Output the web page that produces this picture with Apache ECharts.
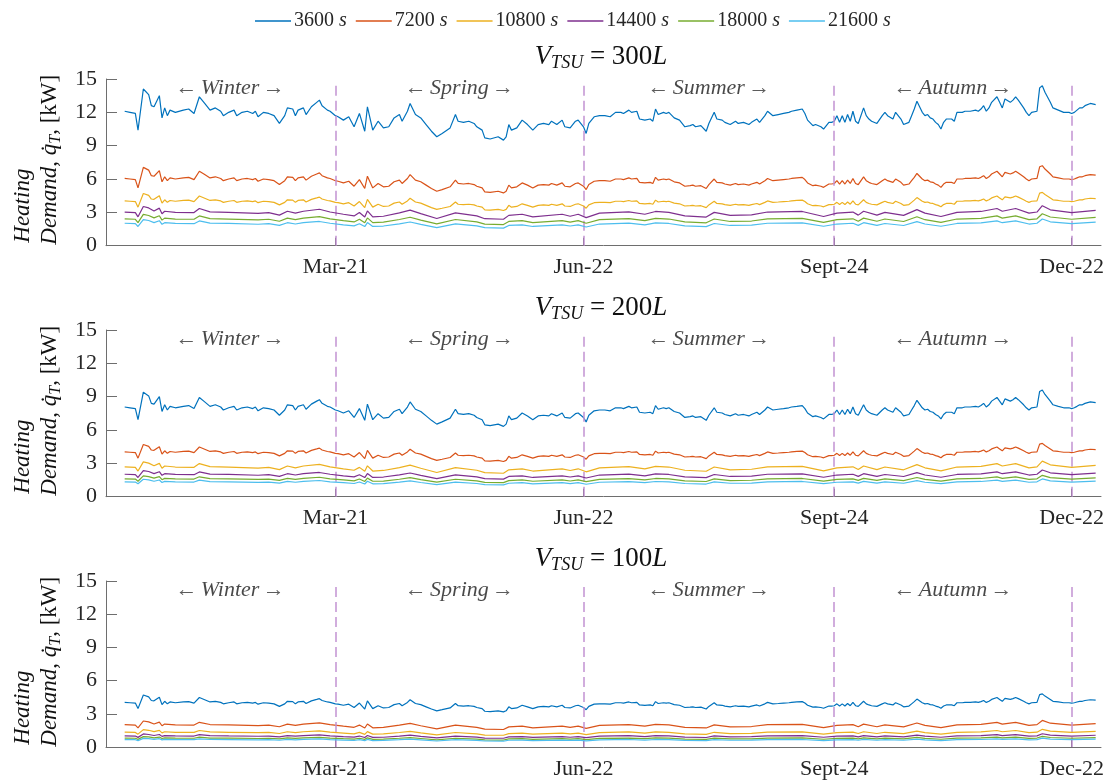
<!DOCTYPE html>
<html>
<head>
<meta charset="utf-8">
<script src="https://cdn.jsdelivr.net/npm/echarts@6/dist/echarts.min.js"></script>
<style>
html, body { margin: 0; padding: 0; background: #ffffff; }
#chart { width: 1112px; height: 780px; }
</style>
</head>
<body>
<div id="chart"></div>
<script>
// Day-of-year positions of the samples (dense track for the larger curves, sparse track for the small ones)
const daysFine = [
  1,3,5,6,8,10,11,12,14,15,
  16,17,18,20,23,25,27,29,31,33,
  35,37,38,40,42,43,45,47,49,50,
  51,53,55,57,59,61,62,64,65,66,
  68,69,71,73,74,75,77,78,80,81,
  83,85,87,89,91,92,94,96,98,100,
  102,104,105,107,108,110,112,114,116,118,
  120,123,125,126,128,130,132,133,135,136,
  138,141,143,144,145,146,148,150,152,154,
  156,158,160,161,163,165,166,168,170,171,
  173,174,175,177,179,181,183,185,187,188,
  190,191,193,194,196,198,199,200,201,203,
  204,205,207,209,211,213,214,215,217,219,
  220,222,223,225,226,228,230,231,233,235,
  236,238,239,241,242,244,246,248,250,251,
  253,255,256,257,259,260,262,263,265,266,
  267,268,269,270,271,272,273,274,275,276,
  278,279,280,281,283,285,286,287,289,290,
  292,293,295,296,297,298,300,301,302,303,
  304,305,306,307,308,309,311,312,313,315,
  316,318,320,321,322,323,324,325,326,328,
  329,330,331,333,334,335,336,338,339,340,
  341,343,344,345,346,348,349,351,353,355,
  356,357,358,359,360,361,363,365
];
const daysCoarse = [
  1,5,6,8,10,12,14,15,16,20,
  27,29,33,40,51,55,59,62,65,68,
  74,78,83,87,89,91,92,94,98,104,
  108,112,118,125,133,136,143,145,150,154,
  165,168,171,174,179,190,196,200,205,211,
  219,222,228,236,242,255,263,268,274,276,
  278,283,286,293,298,301,307,313,322,328,
  330,335,340,343,345,348,356,365
];

// Season boundaries and labels
const boundaryDays = [80, 173, 267, 356];
const boundaryLabels = ['Mar-21', 'Jun-22', 'Sept-24', 'Dec-22'];
const seasonNames = ['Winter', 'Spring', 'Summer', 'Autumn'];
const seasonCentres = [40.5, 126.5, 220, 311.5];

const durations = ['3600', '7200', '10800', '14400', '18000', '21600'];
const volumes = ['300', '200', '100'];

// ---- V_TSU = 300 L ----
const q300_3600 = [
  12.1,12.0,11.9,10.4,14.1,13.6,12.6,12.5,13.5,11.5,
  12.4,11.7,12.2,12.0,12.2,12.3,11.9,13.4,12.8,12.2,
  12.4,12.1,11.7,12.0,12.2,11.7,12.0,12.1,11.9,12.1,
  11.6,12.0,11.9,11.7,11.0,11.7,12.4,12.3,11.7,12.2,
  12.4,11.8,12.5,12.9,13.1,12.6,12.2,12.1,11.7,11.6,
  11.3,11.6,10.7,11.9,10.3,12.5,10.4,11.2,10.6,10.7,
  11.5,11.8,11.2,12.1,12.8,11.8,11.5,10.9,10.3,9.8,
  10.1,10.6,11.8,11.2,11.1,11.2,11.0,10.7,10.4,9.7,
  9.6,9.8,9.5,9.8,10.9,10.4,10.6,11.3,10.9,10.4,
  10.9,11.0,10.9,11.2,10.9,11.3,10.7,10.6,11.2,11.3,
  10.7,10.1,11.0,11.6,11.7,11.7,11.6,12.0,12.0,11.9,
  12.2,12.0,12.1,11.4,11.3,11.4,11.2,12.3,11.8,12.0,
  11.9,12.0,11.5,11.3,10.7,10.8,10.9,10.7,10.8,10.3,
  11.0,12.0,11.4,11.3,11.1,10.9,11.2,11.0,11.1,10.9,
  11.1,11.4,11.1,11.7,12.1,11.7,11.8,11.9,12.0,12.1,
  12.2,12.3,11.9,11.3,10.8,10.9,10.7,10.5,11.1,11.1,
  11.2,11.7,11.1,11.7,11.1,11.8,11.2,12.1,11.2,11.0,
  12.4,11.7,11.4,11.2,11.0,11.7,12.0,11.7,11.4,12.0,
  11.4,10.9,11.1,11.7,12.3,13.0,12.0,11.7,11.8,11.5,
  11.4,11.1,10.9,10.5,11.1,11.4,11.4,11.2,12.0,12.0,
  12.1,12.1,12.2,12.1,12.3,12.6,12.1,12.4,12.9,13.4,
  12.9,12.4,13.2,12.9,13.1,13.4,13.1,12.4,12.0,11.7,
  12.0,12.1,14.2,14.4,13.8,12.9,12.4,12.2,12.0,12.0,
  11.9,12.0,12.2,12.4,12.4,12.6,12.8,12.7
];
const q300_7200 = [
  6.05,6.0,5.95,5.2,7.05,6.8,6.3,6.25,6.75,5.75,
  6.2,5.85,6.1,6.0,6.1,6.15,5.95,6.7,6.4,6.1,
  6.2,6.05,5.85,6.0,6.1,5.85,6.0,6.05,5.95,6.05,
  5.8,6.0,5.95,5.85,5.5,5.85,6.2,6.15,5.85,6.1,
  6.2,5.9,6.25,6.45,6.55,6.3,6.1,6.05,5.85,5.8,
  5.65,5.8,5.35,5.95,5.15,6.25,5.2,5.6,5.3,5.35,
  5.75,5.9,5.6,6.05,6.4,5.9,5.75,5.45,5.15,4.9,
  5.05,5.3,5.9,5.6,5.55,5.6,5.5,5.35,5.2,4.85,
  4.8,4.9,4.75,4.9,5.45,5.2,5.3,5.65,5.45,5.2,
  5.45,5.5,5.45,5.6,5.45,5.65,5.35,5.3,5.6,5.65,
  5.35,5.05,5.5,5.8,5.85,5.85,5.8,6.0,6.0,5.95,
  6.1,6.0,6.05,5.7,5.65,5.7,5.6,6.15,5.9,6.0,
  5.95,6.0,5.75,5.65,5.35,5.4,5.45,5.35,5.4,5.15,
  5.5,6.0,5.7,5.65,5.55,5.45,5.6,5.5,5.55,5.45,
  5.55,5.7,5.55,5.85,6.05,5.85,5.9,5.95,6.0,6.05,
  6.1,6.15,5.95,5.65,5.4,5.45,5.35,5.25,5.55,5.55,
  5.6,5.85,5.55,5.85,5.55,5.9,5.6,6.05,5.6,5.5,
  6.2,5.85,5.7,5.6,5.5,5.85,6.0,5.85,5.7,6.0,
  5.7,5.45,5.55,5.85,6.15,6.5,6.0,5.85,5.9,5.75,
  5.7,5.55,5.45,5.25,5.55,5.7,5.7,5.6,6.0,6.0,
  6.05,6.05,6.1,6.05,6.15,6.3,6.05,6.2,6.45,6.7,
  6.45,6.2,6.6,6.45,6.55,6.7,6.55,6.2,6.0,5.85,
  6.0,6.05,7.1,7.2,6.9,6.45,6.2,6.1,6.0,6.0,
  5.95,6.0,6.1,6.2,6.2,6.3,6.4,6.35
];
const q300_10800 = [
  4.03,4.0,3.97,3.47,4.7,4.53,4.2,4.17,4.5,3.83,
  4.13,3.9,4.07,4.0,4.07,4.1,3.97,4.47,4.27,4.07,
  4.13,4.03,3.9,4.0,4.07,3.9,4.0,4.03,3.97,4.03,
  3.87,4.0,3.97,3.9,3.67,3.9,4.13,4.1,3.9,4.07,
  4.13,3.93,4.17,4.3,4.37,4.2,4.07,4.03,3.9,3.87,
  3.77,3.87,3.57,3.97,3.43,4.17,3.47,3.73,3.53,3.57,
  3.83,3.93,3.73,4.03,4.27,3.93,3.83,3.63,3.43,3.27,
  3.37,3.53,3.93,3.73,3.7,3.73,3.67,3.57,3.47,3.23,
  3.2,3.27,3.17,3.27,3.63,3.47,3.53,3.77,3.63,3.47,
  3.63,3.67,3.63,3.73,3.63,3.77,3.57,3.53,3.73,3.77,
  3.57,3.37,3.67,3.87,3.9,3.9,3.87,4.0,4.0,3.97,
  4.07,4.0,4.03,3.8,3.77,3.8,3.73,4.1,3.93,4.0,
  3.97,4.0,3.83,3.77,3.57,3.6,3.63,3.57,3.6,3.43,
  3.67,4.0,3.8,3.77,3.7,3.63,3.73,3.67,3.7,3.63,
  3.7,3.8,3.7,3.9,4.03,3.9,3.93,3.97,4.0,4.03,
  4.07,4.1,3.97,3.77,3.6,3.63,3.57,3.5,3.7,3.7,
  3.73,3.9,3.7,3.9,3.7,3.93,3.73,4.03,3.73,3.67,
  4.13,3.9,3.8,3.73,3.67,3.9,4.0,3.9,3.8,4.0,
  3.8,3.63,3.7,3.9,4.1,4.33,4.0,3.9,3.93,3.83,
  3.8,3.7,3.63,3.5,3.7,3.8,3.8,3.73,4.0,4.0,
  4.03,4.03,4.07,4.03,4.1,4.2,4.03,4.13,4.3,4.47,
  4.3,4.13,4.4,4.3,4.37,4.47,4.37,4.13,4.0,3.9,
  4.0,4.03,4.73,4.8,4.6,4.3,4.13,4.07,4.0,4.0,
  3.97,4.0,4.07,4.13,4.13,4.2,4.27,4.23
];
const q300_14400 = [
  3.03,2.98,2.6,3.53,3.4,3.13,3.38,2.88,3.1,3.0,
  2.98,3.35,3.05,3.0,2.9,2.98,2.75,3.1,2.93,3.1,
  3.28,3.03,2.83,2.68,2.98,2.58,3.13,2.6,2.65,2.95,
  3.2,2.88,2.45,2.95,2.68,2.43,2.38,2.73,2.83,2.6,
  2.83,2.65,2.83,2.53,2.93,3.05,2.83,3.08,3.0,2.68,
  2.58,3.0,2.73,2.78,3.03,3.08,2.63,2.93,3.03,2.75,
  3.1,2.75,3.0,2.73,3.25,2.93,2.63,3.0,3.08,3.35,
  3.1,3.35,2.93,3.03,3.6,3.23,2.98,3.18
];
const q300_18000 = [
  2.42,2.38,2.08,2.82,2.72,2.5,2.7,2.3,2.48,2.4,
  2.38,2.68,2.44,2.4,2.32,2.38,2.2,2.48,2.34,2.48,
  2.62,2.42,2.26,2.14,2.38,2.06,2.5,2.08,2.12,2.36,
  2.56,2.3,1.96,2.36,2.14,1.94,1.9,2.18,2.26,2.08,
  2.26,2.12,2.26,2.02,2.34,2.44,2.26,2.46,2.4,2.14,
  2.06,2.4,2.18,2.22,2.42,2.46,2.1,2.34,2.42,2.2,
  2.48,2.2,2.4,2.18,2.6,2.34,2.1,2.4,2.46,2.68,
  2.48,2.68,2.34,2.42,2.88,2.58,2.38,2.54
];
const q300_21600 = [
  2.02,1.98,1.73,2.35,2.27,2.08,2.25,1.92,2.07,2.0,
  1.98,2.23,2.03,2.0,1.93,1.98,1.83,2.07,1.95,2.07,
  2.18,2.02,1.88,1.78,1.98,1.72,2.08,1.73,1.77,1.97,
  2.13,1.92,1.63,1.97,1.78,1.62,1.58,1.82,1.88,1.73,
  1.88,1.77,1.88,1.68,1.95,2.03,1.88,2.05,2.0,1.78,
  1.72,2.0,1.82,1.85,2.02,2.05,1.75,1.95,2.02,1.83,
  2.07,1.83,2.0,1.82,2.17,1.95,1.75,2.0,2.05,2.23,
  2.07,2.23,1.95,2.02,2.4,2.15,1.98,2.12
];

// ---- V_TSU = 200 L ----
const q200_3600 = [
  8.07,8.0,7.93,6.93,9.4,9.07,8.4,8.33,9.0,7.67,
  8.27,7.8,8.13,8.0,8.13,8.2,7.93,8.93,8.53,8.13,
  8.27,8.07,7.8,8.0,8.13,7.8,8.0,8.07,7.93,8.07,
  7.73,8.0,7.93,7.8,7.33,7.8,8.27,8.2,7.8,8.13,
  8.27,7.87,8.33,8.6,8.73,8.4,8.13,8.07,7.8,7.73,
  7.53,7.73,7.13,7.93,6.87,8.33,6.93,7.47,7.07,7.13,
  7.67,7.87,7.47,8.07,8.53,7.87,7.67,7.27,6.87,6.53,
  6.73,7.07,7.87,7.47,7.4,7.47,7.33,7.13,6.93,6.47,
  6.4,6.53,6.33,6.53,7.27,6.93,7.07,7.53,7.27,6.93,
  7.27,7.33,7.27,7.47,7.27,7.53,7.13,7.07,7.47,7.53,
  7.13,6.73,7.33,7.73,7.8,7.8,7.73,8.0,8.0,7.93,
  8.13,8.0,8.07,7.6,7.53,7.6,7.47,8.2,7.87,8.0,
  7.93,8.0,7.67,7.53,7.13,7.2,7.27,7.13,7.2,6.87,
  7.33,8.0,7.6,7.53,7.4,7.27,7.47,7.33,7.4,7.27,
  7.4,7.6,7.4,7.8,8.07,7.8,7.87,7.93,8.0,8.07,
  8.13,8.2,7.93,7.53,7.2,7.27,7.13,7.0,7.4,7.4,
  7.47,7.8,7.4,7.8,7.4,7.87,7.47,8.07,7.47,7.33,
  8.27,7.8,7.6,7.47,7.33,7.8,8.0,7.8,7.6,8.0,
  7.6,7.27,7.4,7.8,8.2,8.67,8.0,7.8,7.87,7.67,
  7.6,7.4,7.27,7.0,7.4,7.6,7.6,7.47,8.0,8.0,
  8.07,8.07,8.13,8.07,8.2,8.4,8.07,8.27,8.6,8.93,
  8.6,8.27,8.8,8.6,8.73,8.93,8.73,8.27,8.0,7.8,
  8.0,8.07,9.47,9.6,9.2,8.6,8.27,8.13,8.0,8.0,
  7.93,8.0,8.13,8.27,8.27,8.4,8.53,8.47
];
const q200_7200 = [
  4.03,4.0,3.97,3.47,4.7,4.53,4.2,4.17,4.5,3.83,
  4.13,3.9,4.07,4.0,4.07,4.1,3.97,4.47,4.27,4.07,
  4.13,4.03,3.9,4.0,4.07,3.9,4.0,4.03,3.97,4.03,
  3.87,4.0,3.97,3.9,3.67,3.9,4.13,4.1,3.9,4.07,
  4.13,3.93,4.17,4.3,4.37,4.2,4.07,4.03,3.9,3.87,
  3.77,3.87,3.57,3.97,3.43,4.17,3.47,3.73,3.53,3.57,
  3.83,3.93,3.73,4.03,4.27,3.93,3.83,3.63,3.43,3.27,
  3.37,3.53,3.93,3.73,3.7,3.73,3.67,3.57,3.47,3.23,
  3.2,3.27,3.17,3.27,3.63,3.47,3.53,3.77,3.63,3.47,
  3.63,3.67,3.63,3.73,3.63,3.77,3.57,3.53,3.73,3.77,
  3.57,3.37,3.67,3.87,3.9,3.9,3.87,4.0,4.0,3.97,
  4.07,4.0,4.03,3.8,3.77,3.8,3.73,4.1,3.93,4.0,
  3.97,4.0,3.83,3.77,3.57,3.6,3.63,3.57,3.6,3.43,
  3.67,4.0,3.8,3.77,3.7,3.63,3.73,3.67,3.7,3.63,
  3.7,3.8,3.7,3.9,4.03,3.9,3.93,3.97,4.0,4.03,
  4.07,4.1,3.97,3.77,3.6,3.63,3.57,3.5,3.7,3.7,
  3.73,3.9,3.7,3.9,3.7,3.93,3.73,4.03,3.73,3.67,
  4.13,3.9,3.8,3.73,3.67,3.9,4.0,3.9,3.8,4.0,
  3.8,3.63,3.7,3.9,4.1,4.33,4.0,3.9,3.93,3.83,
  3.8,3.7,3.63,3.5,3.7,3.8,3.8,3.73,4.0,4.0,
  4.03,4.03,4.07,4.03,4.1,4.2,4.03,4.13,4.3,4.47,
  4.3,4.13,4.4,4.3,4.37,4.47,4.37,4.13,4.0,3.9,
  4.0,4.03,4.73,4.8,4.6,4.3,4.13,4.07,4.0,4.0,
  3.97,4.0,4.07,4.13,4.13,4.2,4.27,4.23
];
const q200_10800 = [
  2.69,2.64,2.31,3.13,3.02,2.78,3.0,2.56,2.76,2.67,
  2.64,2.98,2.71,2.67,2.58,2.64,2.44,2.76,2.6,2.76,
  2.91,2.69,2.51,2.38,2.64,2.29,2.78,2.31,2.36,2.62,
  2.84,2.56,2.18,2.62,2.38,2.16,2.11,2.42,2.51,2.31,
  2.51,2.36,2.51,2.24,2.6,2.71,2.51,2.73,2.67,2.38,
  2.29,2.67,2.42,2.47,2.69,2.73,2.33,2.6,2.69,2.44,
  2.76,2.44,2.67,2.42,2.89,2.6,2.33,2.67,2.73,2.98,
  2.76,2.98,2.6,2.69,3.2,2.87,2.64,2.82
];
const q200_14400 = [
  2.02,1.98,1.73,2.35,2.27,2.08,2.25,1.92,2.07,2.0,
  1.98,2.23,2.03,2.0,1.93,1.98,1.83,2.07,1.95,2.07,
  2.18,2.02,1.88,1.78,1.98,1.72,2.08,1.73,1.77,1.97,
  2.13,1.92,1.63,1.97,1.78,1.62,1.58,1.82,1.88,1.73,
  1.88,1.77,1.88,1.68,1.95,2.03,1.88,2.05,2.0,1.78,
  1.72,2.0,1.82,1.85,2.02,2.05,1.75,1.95,2.02,1.83,
  2.07,1.83,2.0,1.82,2.17,1.95,1.75,2.0,2.05,2.23,
  2.07,2.23,1.95,2.02,2.4,2.15,1.98,2.12
];
const q200_18000 = [
  1.61,1.59,1.39,1.88,1.81,1.67,1.8,1.53,1.65,1.6,
  1.59,1.79,1.63,1.6,1.55,1.59,1.47,1.65,1.56,1.65,
  1.75,1.61,1.51,1.43,1.59,1.37,1.67,1.39,1.41,1.57,
  1.71,1.53,1.31,1.57,1.43,1.29,1.27,1.45,1.51,1.39,
  1.51,1.41,1.51,1.35,1.56,1.63,1.51,1.64,1.6,1.43,
  1.37,1.6,1.45,1.48,1.61,1.64,1.4,1.56,1.61,1.47,
  1.65,1.47,1.6,1.45,1.73,1.56,1.4,1.6,1.64,1.79,
  1.65,1.79,1.56,1.61,1.92,1.72,1.59,1.69
];
const q200_21600 = [
  1.34,1.32,1.16,1.57,1.51,1.39,1.5,1.28,1.38,1.33,
  1.32,1.49,1.36,1.33,1.29,1.32,1.22,1.38,1.3,1.38,
  1.46,1.34,1.26,1.19,1.32,1.14,1.39,1.16,1.18,1.31,
  1.42,1.28,1.09,1.31,1.19,1.08,1.06,1.21,1.26,1.16,
  1.26,1.18,1.26,1.12,1.3,1.36,1.26,1.37,1.33,1.19,
  1.14,1.33,1.21,1.23,1.34,1.37,1.17,1.3,1.34,1.22,
  1.38,1.22,1.33,1.21,1.44,1.3,1.17,1.33,1.37,1.49,
  1.38,1.49,1.3,1.34,1.6,1.43,1.32,1.41
];

// ---- V_TSU = 100 L ----
const q100_3600 = [
  4.03,4.0,3.97,3.47,4.7,4.53,4.2,4.17,4.5,3.83,
  4.13,3.9,4.07,4.0,4.07,4.1,3.97,4.47,4.27,4.07,
  4.13,4.03,3.9,4.0,4.07,3.9,4.0,4.03,3.97,4.03,
  3.87,4.0,3.97,3.9,3.67,3.9,4.13,4.1,3.9,4.07,
  4.13,3.93,4.17,4.3,4.37,4.2,4.07,4.03,3.9,3.87,
  3.77,3.87,3.57,3.97,3.43,4.17,3.47,3.73,3.53,3.57,
  3.83,3.93,3.73,4.03,4.27,3.93,3.83,3.63,3.43,3.27,
  3.37,3.53,3.93,3.73,3.7,3.73,3.67,3.57,3.47,3.23,
  3.2,3.27,3.17,3.27,3.63,3.47,3.53,3.77,3.63,3.47,
  3.63,3.67,3.63,3.73,3.63,3.77,3.57,3.53,3.73,3.77,
  3.57,3.37,3.67,3.87,3.9,3.9,3.87,4.0,4.0,3.97,
  4.07,4.0,4.03,3.8,3.77,3.8,3.73,4.1,3.93,4.0,
  3.97,4.0,3.83,3.77,3.57,3.6,3.63,3.57,3.6,3.43,
  3.67,4.0,3.8,3.77,3.7,3.63,3.73,3.67,3.7,3.63,
  3.7,3.8,3.7,3.9,4.03,3.9,3.93,3.97,4.0,4.03,
  4.07,4.1,3.97,3.77,3.6,3.63,3.57,3.5,3.7,3.7,
  3.73,3.9,3.7,3.9,3.7,3.93,3.73,4.03,3.73,3.67,
  4.13,3.9,3.8,3.73,3.67,3.9,4.0,3.9,3.8,4.0,
  3.8,3.63,3.7,3.9,4.1,4.33,4.0,3.9,3.93,3.83,
  3.8,3.7,3.63,3.5,3.7,3.8,3.8,3.73,4.0,4.0,
  4.03,4.03,4.07,4.03,4.1,4.2,4.03,4.13,4.3,4.47,
  4.3,4.13,4.4,4.3,4.37,4.47,4.37,4.13,4.0,3.9,
  4.0,4.03,4.73,4.8,4.6,4.3,4.13,4.07,4.0,4.0,
  3.97,4.0,4.07,4.13,4.13,4.2,4.27,4.23
];
const q100_7200 = [
  2.02,1.98,1.73,2.35,2.27,2.08,2.25,1.92,2.07,2.0,
  1.98,2.23,2.03,2.0,1.93,1.98,1.83,2.07,1.95,2.07,
  2.18,2.02,1.88,1.78,1.98,1.72,2.08,1.73,1.77,1.97,
  2.13,1.92,1.63,1.97,1.78,1.62,1.58,1.82,1.88,1.73,
  1.88,1.77,1.88,1.68,1.95,2.03,1.88,2.05,2.0,1.78,
  1.72,2.0,1.82,1.85,2.02,2.05,1.75,1.95,2.02,1.83,
  2.07,1.83,2.0,1.82,2.17,1.95,1.75,2.0,2.05,2.23,
  2.07,2.23,1.95,2.02,2.4,2.15,1.98,2.12
];
const q100_10800 = [
  1.34,1.32,1.16,1.57,1.51,1.39,1.5,1.28,1.38,1.33,
  1.32,1.49,1.36,1.33,1.29,1.32,1.22,1.38,1.3,1.38,
  1.46,1.34,1.26,1.19,1.32,1.14,1.39,1.16,1.18,1.31,
  1.42,1.28,1.09,1.31,1.19,1.08,1.06,1.21,1.26,1.16,
  1.26,1.18,1.26,1.12,1.3,1.36,1.26,1.37,1.33,1.19,
  1.14,1.33,1.21,1.23,1.34,1.37,1.17,1.3,1.34,1.22,
  1.38,1.22,1.33,1.21,1.44,1.3,1.17,1.33,1.37,1.49,
  1.38,1.49,1.3,1.34,1.6,1.43,1.32,1.41
];
const q100_14400 = [
  1.01,0.99,0.87,1.18,1.13,1.04,1.13,0.96,1.03,1.0,
  0.99,1.12,1.02,1.0,0.97,0.99,0.92,1.03,0.98,1.03,
  1.09,1.01,0.94,0.89,0.99,0.86,1.04,0.87,0.88,0.98,
  1.07,0.96,0.82,0.98,0.89,0.81,0.79,0.91,0.94,0.87,
  0.94,0.88,0.94,0.84,0.98,1.02,0.94,1.03,1.0,0.89,
  0.86,1.0,0.91,0.93,1.01,1.03,0.88,0.98,1.01,0.92,
  1.03,0.92,1.0,0.91,1.08,0.98,0.88,1.0,1.03,1.12,
  1.03,1.12,0.98,1.01,1.2,1.08,0.99,1.06
];
const q100_18000 = [
  0.81,0.79,0.69,0.94,0.91,0.83,0.9,0.77,0.83,0.8,
  0.79,0.89,0.81,0.8,0.77,0.79,0.73,0.83,0.78,0.83,
  0.87,0.81,0.75,0.71,0.79,0.69,0.83,0.69,0.71,0.79,
  0.85,0.77,0.65,0.79,0.71,0.65,0.63,0.73,0.75,0.69,
  0.75,0.71,0.75,0.67,0.78,0.81,0.75,0.82,0.8,0.71,
  0.69,0.8,0.73,0.74,0.81,0.82,0.7,0.78,0.81,0.73,
  0.83,0.73,0.8,0.73,0.87,0.78,0.7,0.8,0.82,0.89,
  0.83,0.89,0.78,0.81,0.96,0.86,0.79,0.85
];
const q100_21600 = [
  0.67,0.66,0.58,0.78,0.76,0.69,0.75,0.64,0.69,0.67,
  0.66,0.74,0.68,0.67,0.64,0.66,0.61,0.69,0.65,0.69,
  0.73,0.67,0.63,0.59,0.66,0.57,0.69,0.58,0.59,0.66,
  0.71,0.64,0.54,0.66,0.59,0.54,0.53,0.61,0.63,0.58,
  0.63,0.59,0.63,0.56,0.65,0.68,0.63,0.68,0.67,0.59,
  0.57,0.67,0.61,0.62,0.67,0.68,0.58,0.65,0.67,0.61,
  0.69,0.61,0.67,0.61,0.72,0.65,0.58,0.67,0.68,0.74,
  0.69,0.74,0.65,0.67,0.8,0.72,0.66,0.71
];

// Curves of each panel, ordered as in `durations`: [day track, values]
const panelCurves = [
  [[daysFine, q300_3600], [daysFine, q300_7200], [daysFine, q300_10800],
   [daysCoarse, q300_14400], [daysCoarse, q300_18000], [daysCoarse, q300_21600]],
  [[daysFine, q200_3600], [daysFine, q200_7200], [daysCoarse, q200_10800],
   [daysCoarse, q200_14400], [daysCoarse, q200_18000], [daysCoarse, q200_21600]],
  [[daysFine, q100_3600], [daysCoarse, q100_7200], [daysCoarse, q100_10800],
   [daysCoarse, q100_14400], [daysCoarse, q100_18000], [daysCoarse, q100_21600]]
];

// ---- styling ----
const FONT = '"Liberation Serif", "DejaVu Serif", serif';
const INK = '#262626';
const AXIS = '#6e6e6e';
const colors = ['#0072BD', '#D95319', '#EDB120', '#7E2F8E', '#77AC30', '#4DBEEE'];
const boundaryColor = '#C293D2';

const plotLeft = 106, plotWidth = 995, plotHeight = 166.7;
const panelTops = [79, 330, 581];

const pairs = (xs, ys) => xs.map((x, i) => [x, ys[i]]);

const grids = [], xAxes = [], yAxes = [], series = [], graphics = [];

panelTops.forEach((top, p) => {
  grids.push({ left: plotLeft, top: top, width: plotWidth, height: plotHeight, containLabel: false });

  xAxes.push({
    type: 'value', gridIndex: p, min: -6, max: 367,
    axisLine: { show: true, onZero: false, lineStyle: { color: AXIS, width: 1 } },
    axisTick: { show: true, inside: true, length: 8, customValues: boundaryDays, lineStyle: { color: '#404040', width: 1 } },
    axisLabel: {
      show: true, customValues: boundaryDays, margin: 11,
      fontFamily: FONT, fontSize: 22, color: INK,
      formatter: v => boundaryLabels[boundaryDays.indexOf(v)] || ''
    },
    splitLine: { show: false }
  });

  yAxes.push({
    type: 'value', gridIndex: p, min: 0, max: 15, interval: 3,
    axisLine: { show: true, onZero: false, lineStyle: { color: AXIS, width: 1 } },
    axisTick: { show: true, inside: true, length: 11, lineStyle: { color: AXIS, width: 1 } },
    axisLabel: { margin: 9, fontFamily: FONT, fontSize: 22, color: INK },
    splitLine: { show: false }
  });

  panelCurves[p].forEach((curve, k) => {
    series.push({
      type: 'line',
      name: durations[k] + ' s',
      xAxisIndex: p, yAxisIndex: p,
      data: pairs(curve[0], curve[1]),
      symbol: 'none', showSymbol: false,
      lineStyle: { color: colors[k], width: 1.2 },
      itemStyle: { color: colors[k] },
      emphasis: { disabled: true },
      z: 3 + k
    });
  });

  // season names and dashed season boundaries
  series.push({
    type: 'scatter',
    name: 'seasons' + p,
    xAxisIndex: p, yAxisIndex: p,
    symbolSize: 0,
    silent: true,
    data: seasonCentres.map(c => [c, 14.2]),
    label: {
      show: true, position: 'inside',
      formatter: prm => '{a|\u2190} {w|' + seasonNames[prm.dataIndex] + '} {a|\u2192}',
      rich: {
        a: { fontFamily: FONT, fontSize: 22, color: '#333' },
        w: { fontFamily: FONT, fontSize: 22, fontStyle: 'italic', color: '#1a1a1a' }
      }
    },
    markLine: {
      silent: true, symbol: 'none', animation: false,
      label: { show: false },
      lineStyle: { color: boundaryColor, width: 1.5, type: [10, 5] },
      data: boundaryDays.map(d => [{ coord: [d, 0] }, { coord: [d, 14.6] }])
    },
    z: 10
  });

  const bottom = top + plotHeight;

  // panel title  V_TSU = ...L
  graphics.push({
    type: 'text', x: 601, y: top - 22, silent: true,
    style: {
      text: '{v|V}{s|TSU}{e| = ' + volumes[p] + '}{v|L}',
      align: 'center', verticalAlign: 'middle',
      rich: {
        v: { fontFamily: FONT, fontStyle: 'italic', fontSize: 27, lineHeight: 30, fill: '#111' },
        s: { fontFamily: FONT, fontStyle: 'italic', fontSize: 18, lineHeight: 20, verticalAlign: 'bottom', fill: '#111' },
        e: { fontFamily: FONT, fontSize: 27, lineHeight: 30, fill: '#111' }
      }
    }
  });

  // two-line y-axis title, rotated
  graphics.push({
    type: 'text', x: 23, y: bottom - 3, rotation: Math.PI / 2, silent: true,
    style: {
      text: 'Heating', fontFamily: FONT, fontStyle: 'italic', fontSize: 23,
      fill: '#111', align: 'left', verticalAlign: 'middle'
    }
  });
  graphics.push({
    type: 'text', x: 50, y: bottom - 1, rotation: Math.PI / 2, silent: true,
    style: {
      text: '{i|Demand}{r|, }{i|q\u0307}{b|T}{r|, [kW]}',
      align: 'left', verticalAlign: 'middle',
      rich: {
        i: { fontFamily: FONT, fontStyle: 'italic', fontSize: 23, lineHeight: 28, fill: '#111' },
        r: { fontFamily: FONT, fontSize: 23, lineHeight: 28, fill: '#111' },
        b: { fontFamily: FONT, fontStyle: 'italic', fontSize: 16, lineHeight: 18, verticalAlign: 'bottom', fill: '#111' }
      }
    }
  });
});

const chart = echarts.init(document.getElementById('chart'), null, { renderer: 'canvas' });
chart.setOption({
  animation: false,
  backgroundColor: '#ffffff',
  color: colors,
  legend: {
    data: durations.map(d => d + ' s'),
    left: 250, top: 6,
    icon: 'rect',
    itemWidth: 36, itemHeight: 1.5, itemGap: 9,
    padding: [5, 5, 5, 5],
    selectedMode: false,
    textStyle: {
      fontFamily: FONT, fontSize: 20, color: INK, padding: [0, 0, 0, -2],
      rich: {
        n: { fontFamily: FONT, fontSize: 20, color: INK },
        s: { fontFamily: FONT, fontSize: 20, fontStyle: 'italic', color: INK }
      }
    },
    formatter: name => '{n|' + name.split(' ')[0] + '} {s|s}'
  },
  grid: grids,
  xAxis: xAxes,
  yAxis: yAxes,
  series: series,
  graphic: graphics
});
</script>
</body>
</html>
